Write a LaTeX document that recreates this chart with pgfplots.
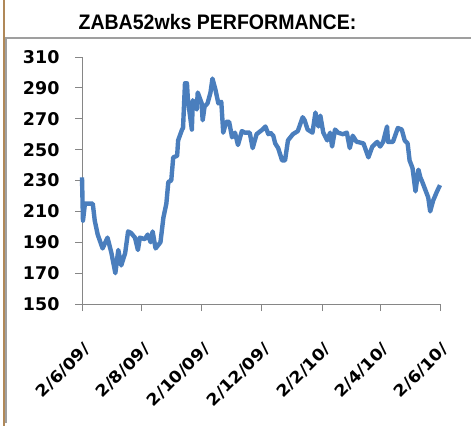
\documentclass[border=0pt]{standalone}
\usepackage{pgfplots}
\pgfplotsset{compat=1.18}
\usepackage{fontspec}
\setmainfont{DejaVu Sans}
\newfontfamily\titlefont{Liberation Sans}
\definecolor{lineblue}{RGB}{74,126,189}
\definecolor{axisgray}{RGB}{134,134,134}
\definecolor{brownline}{RGB}{176,136,88}
\newcommand\xl[1]{\scalebox{1.1}[1]{#1}}
\begin{document}
\begin{tikzpicture}[x=1pt,y=1pt]
\path[use as bounding box] (0,0) rectangle (471,-426);
\fill[white] (0,0) rectangle (471,-426);
\draw[brownline, line width=1.5pt] (3.8,0) -- (3.8,-426);
\draw[gray!75, line width=2pt] (6.2,-423) -- (6.2,-37.5) -- (471,-37.5);
\node[anchor=base, inner sep=0pt, font=\titlefont\bfseries\fontsize{21}{25}\selectfont] at (217.5,-29) {\scalebox{0.93}[1]{ZABA52wks PERFORMANCE:}};
\begin{axis}[at={(82pt,-304pt)}, anchor=south west, scale only axis, width=358pt, height=247pt,
  xmin=0, xmax=365, ymin=150, ymax=310,
  ytick={150,170,...,310},
  xtick={0,61,122,183,245,304,365},
  xticklabels={\xl{2/6/09/},\xl{2/8/09/},\xl{2/10/09/},\xl{2/12/09/},\xl{2/2/10/},\xl{2/4/10/},\xl{2/6/10/}},
  axis lines=left, axis line style={axisgray, line width=0.9pt, -},
  tick style={axisgray, line width=0.9pt}, tick align=outside, major tick length=7pt,
  yticklabel style={font=\bfseries\fontsize{17.5}{20}\selectfont, xshift=-12pt},
  /pgf/number format/assume math mode=true,
  xticklabel style={font=\bfseries\fontsize{16}{19}\selectfont, xshift=8pt, yshift=-33pt, rotate=45, anchor=east},
  clip=false,
]
\addplot[lineblue, line width=4.4pt, line join=round] coordinates {
(0,232) (1,204) (3,215) (11,215) (13,204) (16,195) (21,186) (26,193) (30,183) (34,170)
(37,185) (40,175) (44,183) (47,197) (50,196) (54,193) (57,185) (59,193) (64,192) (67,195)
(70,190) (72,197) (75,186) (80,190) (83,206) (86,215) (88,229) (91,230) (93,245) (97,246)
(98,256) (102,263) (103,264) (105,293) (107,293) (108,282) (112,263) (113,282) (117,276) (118,287)
(122,280) (123,269) (125,278) (128,280) (131,287) (133,296) (136,289) (139,280) (142,281) (144,261)
(147,268) (150,268) (153,258) (156,261) (159,253) (163,262) (166,261) (171,261) (174,251) (178,260)
(184,263) (187,265) (190,260) (192,261) (195,259) (197,254) (200,251) (204,243) (207,243) (210,256)
(215,260) (220,262) (225,271) (227,269) (230,263) (235,261) (238,274) (241,265) (243,272) (246,261)
(250,256) (253,261) (255,252) (258,263) (261,261) (266,260) (270,261) (273,251) (276,259) (280,255)
(281,255) (287,254) (292,245) (296,252) (301,255) (304,252) (307,255) (311,265) (312,255) (317,255)
(322,264) (326,263) (329,256) (332,254) (334,243) (337,238) (340,223) (343,237) (345,232) (347,229)
(350,224) (353,219) (355,210) (358,217) (362,223) (365,227)
};
\end{axis}
\end{tikzpicture}
\end{document}
